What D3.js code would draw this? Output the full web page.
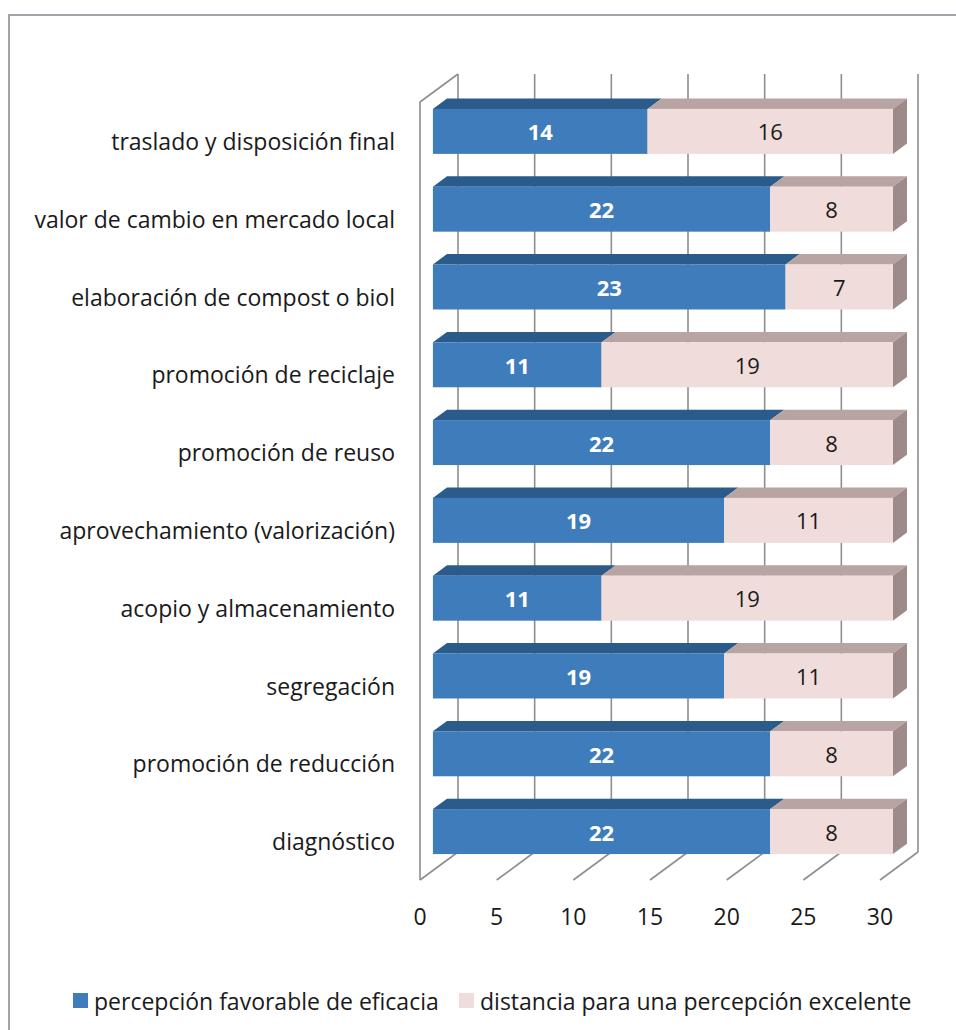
<!DOCTYPE html>
<html>
<head>
<meta charset="utf-8">
<script src="https://cdn.jsdelivr.net/npm/d3@7"></script>
<style>
  body { margin: 0; background: #fff; }
  svg { display: block; font-family: "Open Sans", Lato, sans-serif; }
</style>
</head>
<body>
<svg id="chart" width="956" height="1030"></svg>
<script>
// data, top row first
const categories = [
  "traslado y disposición final",
  "valor de cambio en mercado local",
  "elaboración de compost o biol",
  "promoción de reciclaje",
  "promoción de reuso",
  "aprovechamiento (valorización)",
  "acopio y almacenamiento",
  "segregación",
  "promoción de reducción",
  "diagnóstico"
];
const favorable = [14, 22, 23, 11, 22, 19, 11, 19, 22, 22];
const distance  = [16, 8, 7, 19, 8, 11, 19, 11, 8, 8];
const ticks = [0, 5, 10, 15, 20, 25, 30];
const seriesNames = ["percepción favorable de eficacia", "distancia para una percepción excelente"];

// colours
const C = {
  blueFront: "#3f7cbb", blueTop: "#2b5b8b",
  pinkFront: "#f0dcda", pinkTop: "#b8a4a2", pinkSide: "#9e8b89",
  grid: "#8e8e8e", frame: "#a3a3ab", text: "#1a1a1a"
};
const FS = 23;

// front plane + depth vector for the 3D box
const x = d3.scaleLinear().domain([0, 30]).range([420, 880]);
const y = d3.scaleBand().domain(categories).range([102, 880]);
const DEPTH = [38, -28];
const dp = f => [DEPTH[0] * f, DEPTH[1] * f];
const barFront = dp(0.34), barBack = dp(0.71);
const BAR_H = 45;

const svg = d3.select("#chart");

// outer frame (only top + left visible)
svg.append("path")
  .attr("d", "M9,1030 V15 H956")
  .attr("fill", "none").attr("stroke", C.frame).attr("stroke-width", 2);

const gGrid = svg.append("g").attr("stroke", C.grid).attr("stroke-width", 1.6).attr("fill", "none");
const yTop = y.range()[0], yBot = y.range()[1];

// back wall verticals
gGrid.selectAll("line.back").data(ticks).join("line")
  .attr("class", "back")
  .attr("x1", d => x(d) + DEPTH[0]).attr("x2", d => x(d) + DEPTH[0])
  .attr("y1", yTop + DEPTH[1]).attr("y2", yBot + DEPTH[1]);
// floor diagonals
gGrid.selectAll("line.floor").data(ticks).join("line")
  .attr("class", "floor")
  .attr("x1", d => x(d)).attr("y1", yBot)
  .attr("x2", d => x(d) + DEPTH[0]).attr("y2", yBot + DEPTH[1]);
// left side wall
gGrid.append("path")
  .attr("d", `M${x(0)},${yBot} V${yTop} L${x(0) + DEPTH[0]},${yTop + DEPTH[1]}`);

// bars
const rows = categories.map((c, i) => ({ cat: c, a: favorable[i], b: distance[i] }));
const poly = pts => "M" + pts.map(p => p.join(",")).join("L") + "Z";

const gBars = svg.append("g");
rows.forEach(r => {
  const yc = y(r.cat) + y.bandwidth() / 2;
  const y0 = yc - BAR_H / 2 + barFront[1], y1 = y0 + BAR_H;
  const dx = barBack[0] - barFront[0], dy = barBack[1] - barFront[1];
  const segs = [
    { v0: 0, v1: r.a, front: C.blueFront, top: C.blueTop },
    { v0: r.a, v1: r.a + r.b, front: C.pinkFront, top: C.pinkTop, side: C.pinkSide }
  ];
  const g = gBars.append("g");
  segs.forEach(s => {
    const xa = x(s.v0) + barFront[0], xb = x(s.v1) + barFront[0];
    g.append("path").attr("d", poly([[xa, y0], [xa + dx, y0 + dy], [xb + dx, y0 + dy], [xb, y0]])).attr("fill", s.top);
    if (s.side) g.append("path").attr("d", poly([[xb, y0], [xb + dx, y0 + dy], [xb + dx, y1 + dy], [xb, y1]])).attr("fill", s.side);
    g.append("rect").attr("x", xa).attr("y", y0).attr("width", xb - xa).attr("height", BAR_H).attr("fill", s.front);
  });
  g.append("text")
    .attr("x", (x(0) + x(r.a)) / 2 + barFront[0]).attr("y", yc + barFront[1])
    .attr("text-anchor", "middle").attr("dominant-baseline", "central")
    .attr("font-size", FS - 1).attr("font-weight", "bold").attr("fill", "#fff")
    .text(r.a);
  g.append("text")
    .attr("x", (x(r.a) + x(r.a + r.b)) / 2 + barFront[0]).attr("y", yc + barFront[1])
    .attr("text-anchor", "middle").attr("dominant-baseline", "central")
    .attr("font-size", FS - 1).attr("fill", C.text)
    .text(r.b);
});

// category labels
svg.append("g").selectAll("text").data(categories).join("text")
  .attr("x", 395).attr("y", d => y(d) + y.bandwidth() / 2)
  .attr("text-anchor", "end").attr("dominant-baseline", "central")
  .attr("font-size", FS).attr("fill", C.text)
  .text(d => d);

// x tick labels
svg.append("g").selectAll("text").data(ticks).join("text")
  .attr("x", d => x(d)).attr("y", 916)
  .attr("text-anchor", "middle").attr("dominant-baseline", "central")
  .attr("font-size", FS).attr("fill", C.text)
  .text(d => d);

// legend
const legendX = [73, 459];
const legendColors = [C.blueFront, C.pinkFront];
const lg = svg.append("g").selectAll("g").data(seriesNames).join("g")
  .attr("transform", (d, i) => `translate(${legendX[i]},993)`);
lg.append("rect").attr("width", 15).attr("height", 15).attr("fill", (d, i) => legendColors[i]);
lg.append("text").attr("x", 21).attr("y", 7.5).attr("dominant-baseline", "central")
  .attr("font-size", FS).attr("fill", C.text).text(d => d);
</script>
</body>
</html>
